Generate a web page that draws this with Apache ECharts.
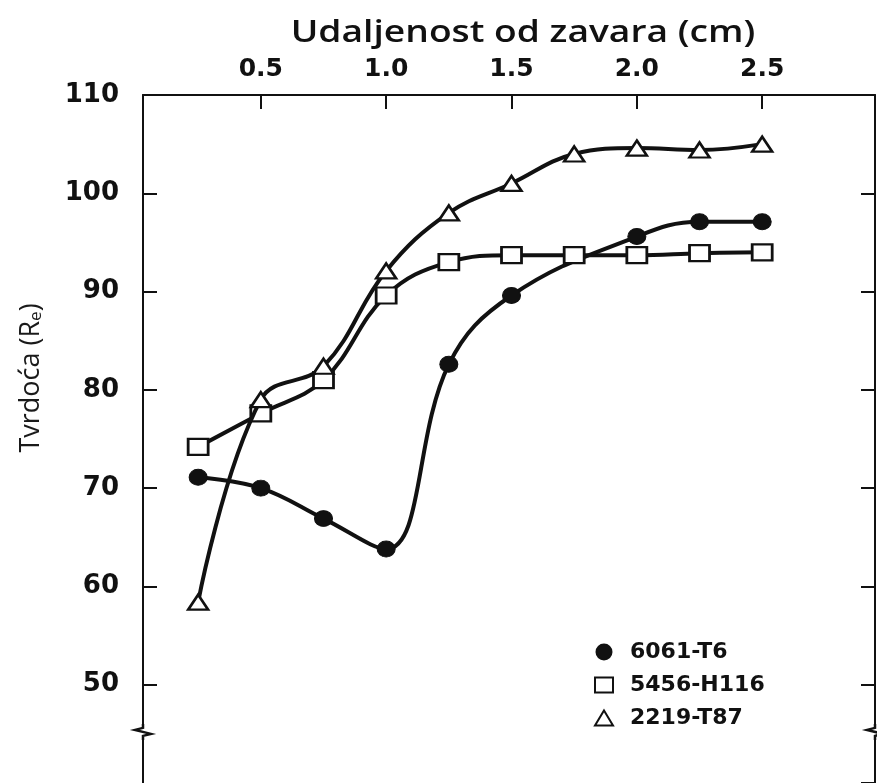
<!DOCTYPE html>
<html><head><meta charset="utf-8">
<script src="https://cdn.jsdelivr.net/npm/echarts@6/dist/echarts.min.js"></script>
<style>html,body{margin:0;padding:0;background:#fff}#c{width:877px;height:783px}</style>
</head><body><div id="c"></div>
<script>
// Data
const distances = [0.25, 0.5, 0.75, 1.0, 1.25, 1.5, 1.75, 2.0, 2.25, 2.5];
const distances6061 = [0.25, 0.5, 0.75, 1.0, 1.25, 1.5, 2.0, 2.25, 2.5];
const hard6061 = [71.1, 70.0, 66.9, 63.8, 82.6, 89.6, 95.6, 97.1, 97.1];
const hard5456 = [74.2, 77.6, 81.0, 89.6, 93.0, 93.7, 93.7, 93.7, 93.9, 94.0];
const hard2219 = [58.4, 79.0, 82.4, 92.1, 98.0, 101.0, 104.0, 104.6, 104.4, 105.0];
const seriesNames = ['6061-T6', '5456-H116', '2219-T87'];
const xTickValues = [0.5, 1.0, 1.5, 2.0, 2.5];
const xAxisTitle = 'Udaljenost od zavara (cm)';
const yAxisTitle = 'Tvrdoća (R';
const yAxisSub = 'e';

const INK = '#111';

const chart = echarts.init(document.getElementById('c'), null, { renderer: 'canvas' });

const pair = (xs, ys) => xs.map((x, i) => [x, ys[i]]);

const option = {
  animation: false,
  backgroundColor: '#fff',
  grid: { left: 143, right: 2, top: 95, bottom: -3, containLabel: false },
  xAxis: {
    type: 'value', position: 'top', min: 0.03, max: 2.95,
    axisLine: { show: true, lineStyle: { color: INK, width: 2 } },
    axisTick: { show: true, inside: true, length: 14, lineStyle: { color: INK, width: 2 }, customValues: xTickValues },
    axisLabel: { customValues: xTickValues, margin: 13, formatter: v => v.toFixed(1),
      fontFamily: 'DejaVu Sans', fontWeight: 'bold', fontSize: 25, color: INK },
    splitLine: { show: false }
  },
  yAxis: [{
    type: 'value', position: 'left', min: 40, max: 110, interval: 10,
    axisLine: { show: true, lineStyle: { color: INK, width: 2 } },
    axisTick: { show: true, inside: true, length: 14, lineStyle: { color: INK, width: 2 } },
    axisLabel: { margin: 24, showMinLabel: false,
      fontFamily: 'DejaVu Sans', fontWeight: 'bold', fontSize: 26, color: INK },
    splitLine: { show: false }
  }, {
    type: 'value', position: 'right', min: 40, max: 110, interval: 10,
    axisLine: { show: true, lineStyle: { color: INK, width: 2 } },
    axisTick: { show: true, inside: true, length: 14, lineStyle: { color: INK, width: 2 } },
    axisLabel: { show: false },
    splitLine: { show: false }
  }],
  legend: {
    orient: 'vertical', left: 589, top: 636, itemWidth: 18, itemHeight: 15, itemGap: 11,
    data: [
      { name: seriesNames[0], icon: 'circle' },
      { name: seriesNames[1], icon: 'rect' },
      { name: seriesNames[2], icon: 'triangle' }
    ],
    textStyle: { fontFamily: 'DejaVu Sans', fontWeight: 'bold', fontSize: 22, color: INK, padding: [0, 0, 0, 12] }
  },
  series: [
    {
      name: seriesNames[0], type: 'line', smooth: 0.4, z: 3,
      data: pair(distances6061, hard6061),
      symbol: 'circle', symbolSize: [18, 16],
      lineStyle: { color: INK, width: 4 },
      itemStyle: { color: INK, borderColor: INK, borderWidth: 1 }
    },
    {
      name: seriesNames[1], type: 'line', smooth: 0.4, z: 4,
      data: pair(distances, hard5456),
      symbol: 'rect', symbolSize: [20, 16],
      lineStyle: { color: INK, width: 4 },
      itemStyle: { color: '#fff', borderColor: INK, borderWidth: 2.5 }
    },
    {
      name: seriesNames[2], type: 'line', smooth: 0.4, z: 5,
      data: pair(distances, hard2219),
      symbol: 'triangle', symbolSize: [20, 15],
      lineStyle: { color: INK, width: 4 },
      itemStyle: { color: '#fff', borderColor: INK, borderWidth: 2.5 }
    }
  ]
};
chart.setOption(option);

// decorations: axis titles and axis break marks
const breakVal = 45.2;
const pL = chart.convertToPixel({ gridIndex: 0 }, [0.03, breakVal]);
const pR = chart.convertToPixel({ gridIndex: 0 }, [2.95, breakVal]);
function breakMark(p) {
  return {
    type: 'group', children: [
      { type: 'rect', shape: { x: p[0] - 3, y: p[1] - 5, width: 6, height: 10 }, style: { fill: '#fff' }, z: 10 },
      { type: 'polyline', shape: { points: [[p[0], p[1] - 8], [p[0], p[1] - 4], [p[0] - 8, p[1] - 2], [p[0] + 8, p[1] + 2], [p[0], p[1] + 4], [p[0], p[1] + 8]] },
        style: { stroke: INK, lineWidth: 2.5, fill: null }, z: 11 }
    ]
  };
}
chart.setOption({
  graphic: [
    breakMark(pL), breakMark(pR),
    {
      type: 'text', x: 523, y: 33, scaleX: 1.2,
      style: {
        text: xAxisTitle, font: '600 31px "Open Sans"', fill: INK,
        align: 'center', verticalAlign: 'middle'
      }
    },
    {
      type: 'text', x: 31, y: 378, rotation: Math.PI / 2,
      style: {
        text: yAxisTitle + '{s|' + yAxisSub + '}' + ')',
        font: '27px "Open Sans"', fill: '#1a1a1a', align: 'center', verticalAlign: 'middle',
        rich: { s: { fontSize: 17, fontFamily: 'Open Sans', fill: '#1a1a1a', padding: [11, 0, 0, 0] } }
      }
    }
  ]
});
</script>
</body></html>
